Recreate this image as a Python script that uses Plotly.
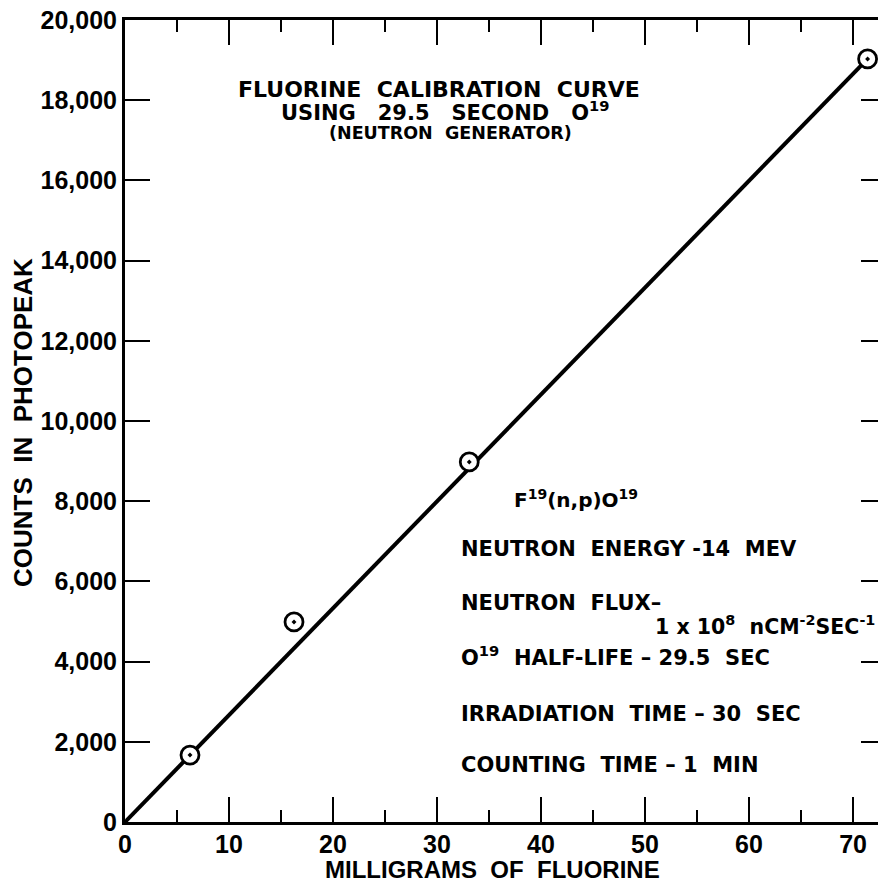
import plotly.graph_objects as go

# ---- data ----
mg_fluorine = [6.25, 16.25, 33.1, 71.4]
counts = [1670, 4990, 8980, 19030]
fit_x = [0, 71.4]
fit_y = [0, 19030]

x_ticks = [0, 10, 20, 30, 40, 50, 60, 70]
y_ticks = [0, 2000, 4000, 6000, 8000, 10000, 12000, 14000, 16000, 18000, 20000]
y_ticklabels = ["0", "2,000", "4,000", "6,000", "8,000", "10,000", "12,000",
                "14,000", "16,000", "18,000", "20,000"]

title_lines = ["FLUORINE  CALIBRATION  CURVE",
               "USING   29.5   SECOND   O<sup>19</sup>",
               "(NEUTRON  GENERATOR)"]
info_lines = ["NEUTRON  ENERGY -14  MEV",
              "NEUTRON  FLUX\u2013",
              "O<sup>19</sup>  HALF-LIFE \u2013 29.5  SEC",
              "IRRADIATION  TIME \u2013 30  SEC",
              "COUNTING  TIME \u2013 1  MIN"]
reaction_text = "F<sup>19</sup>(n,p)O<sup>19</sup>"
flux_value = "1 x 10<sup>8</sup>  nCM<sup>-2</sup>SEC<sup>-1</sup>"
x_title = "MILLIGRAMS  OF  FLUORINE"
y_title = "COUNTS  IN  PHOTOPEAK"

W, H = 878, 883
L, T, R, B = 125, 20, 0, 61
PW, PH = W - L - R, H - T - B
XMAX = 72.4


def px(xp):
    return (xp - L) / PW


def py(yp):
    return (H - B - yp) / PH


AX_FONT = dict(family="Liberation Sans", size=25, color="black", weight="bold")
TXT = dict(family="DejaVu Sans", size=21, color="black", weight="bold")

fig = go.Figure()
fig.add_trace(go.Scatter(x=fit_x, y=fit_y, mode="lines",
                         line=dict(color="black", width=4), hoverinfo="skip"))
fig.add_trace(go.Scatter(x=mg_fluorine, y=counts, mode="markers",
                         marker=dict(symbol="circle-dot", size=18, color="white",
                                     line=dict(color="black", width=2.8))))
fig.add_trace(go.Scatter(x=[None], y=[None], yaxis="y2", mode="markers"))

annotations = []
title_pos = [(439, 89), (445, 111), (450, 133)]
title_sizes = [22, 21, 17.5]
for txt, (xc, yc), s in zip(title_lines, title_pos, title_sizes):
    annotations.append(dict(text=txt, x=px(xc), y=py(yc), xref="paper", yref="paper",
                            xanchor="center", yanchor="middle", showarrow=False,
                            font=dict(TXT, size=s)))

annotations.append(dict(text=reaction_text, x=px(512), y=py(499), xref="paper", yref="paper",
                        xanchor="left", yanchor="middle", showarrow=False,
                        font=dict(TXT, size=20)))
info_y = [549, 603, 656, 714, 765]
for txt, yc in zip(info_lines, info_y):
    annotations.append(dict(text=txt, x=px(459), y=py(yc), xref="paper", yref="paper",
                            xanchor="left", yanchor="middle", showarrow=False,
                            font=TXT))
annotations.append(dict(text=flux_value, x=px(877), y=py(625), xref="paper", yref="paper",
                        xanchor="right", yanchor="middle", showarrow=False,
                        font=dict(TXT, size=20.5)))

annotations.append(dict(text=x_title, x=px(492), y=py(885), xref="paper", yref="paper",
                        xanchor="center", yanchor="bottom", showarrow=False,
                        font=dict(AX_FONT, size=24)))
annotations.append(dict(text=y_title, x=px(23), y=py(423), xref="paper", yref="paper",
                        xanchor="center", yanchor="middle", showarrow=False,
                        textangle=-90, font=dict(AX_FONT, size=26)))

fig.update_layout(
    width=W, height=H,
    margin=dict(l=L, r=R, t=T, b=B, pad=0),
    paper_bgcolor="white", plot_bgcolor="white",
    showlegend=False,
    annotations=annotations,
    xaxis=dict(range=[0, XMAX], tickvals=x_ticks, ticktext=[str(v) for v in x_ticks],
               showgrid=False, zeroline=False, showline=True, linecolor="black", linewidth=3,
               mirror="ticks", ticks="inside", ticklen=25, tickwidth=2.2, tickcolor="black",
               minor=dict(dtick=5, ticks="inside", ticklen=12, tickwidth=2.2,
                          tickcolor="black", showgrid=False),
               tickfont=AX_FONT, ticklabelstandoff=-2),
    yaxis=dict(range=[0, 20000], tickvals=y_ticks, ticktext=y_ticklabels,
               showgrid=False, zeroline=False, showline=True, linecolor="black", linewidth=3,
               ticks="inside", ticklen=25, tickwidth=2.2, tickcolor="black",
               tickfont=AX_FONT, ticklabelstandoff=0),
    yaxis2=dict(range=[0, 20000], overlaying="y", side="right", tickvals=y_ticks,
                showticklabels=False, showgrid=False, zeroline=False, showline=False,
                ticks="inside", ticklen=17, tickwidth=2.2, tickcolor="black"),
)

fig.write_html("out.html")
